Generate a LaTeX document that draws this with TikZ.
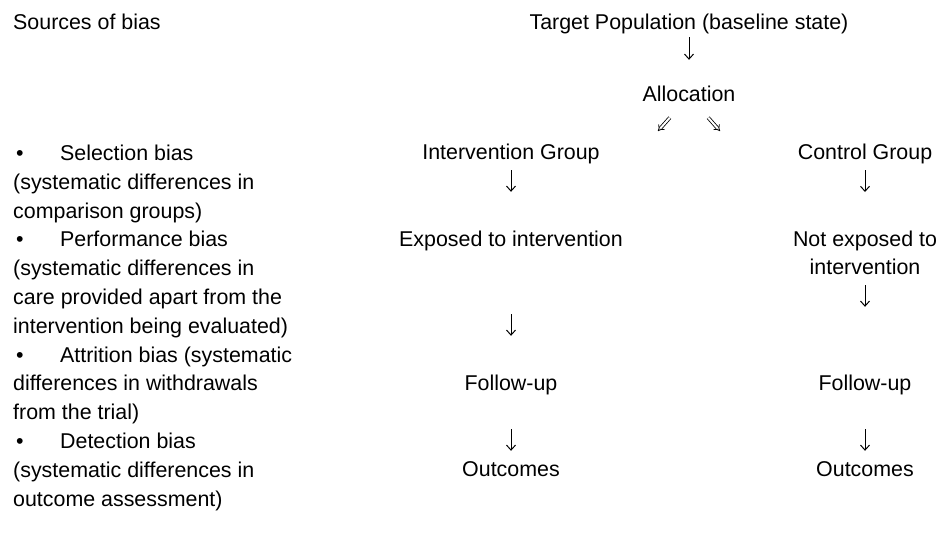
\documentclass[tikz,border=0pt]{standalone}
\usepackage{fontspec}
\setmainfont{Liberation Sans}
\usetikzlibrary{arrows.meta}
\begin{document}
\begin{tikzpicture}[x=1pt, y=-1pt,
  every node/.style={font=\fontsize{21.4}{28.8}\selectfont, inner sep=0pt},
  lbl/.style={anchor=base, text height=15pt, text depth=4pt},
  dn/.style={-{Straight Barb[length=5pt,width=9pt]}, line width=1pt},
  split/.style={double, double distance=2pt, line width=0.8pt, -{Implies}, shorten <=16pt}]
\useasboundingbox (0,0) rectangle (940,536);
\node[anchor=base west] (src) at (13,29.5) {Sources of bias};
\node[anchor=north west, align=left] (bias) at (13,144.8) {\makebox[47pt][l]{\hspace{3pt}\textbullet}Selection bias\\
(systematic differences in\\
comparison groups)\\
\makebox[47pt][l]{\hspace{3pt}\textbullet}Performance bias\\
(systematic differences in\\
care provided apart from the\\
intervention being evaluated)\\
\makebox[47pt][l]{\hspace{3pt}\textbullet}Attrition bias (systematic\\
differences in withdrawals\\
from the trial)\\
\makebox[47pt][l]{\hspace{3pt}\textbullet}Detection bias\\
(systematic differences in\\
outcome assessment)};
\node[lbl] (tgt) at (689,29.5) {Target Population (baseline state)};
\node[lbl] (alloc) at (689,101.5) {Allocation};
\coordinate (spl) at (658,131);
\coordinate (spr) at (720,131);
\node[lbl] (ig) at (511,159.5) {Intervention Group};
\node[lbl] (cg) at (865,159.5) {Control Group};
\node[lbl] (ex) at (511,246.5) {Exposed to intervention};
\node[anchor=north, align=center] (nex) at (865,230.3) {Not exposed to\\intervention};
\node[lbl] (fu1) at (511,390.5) {Follow-up};
\node[lbl] (fu2) at (865,390.5) {Follow-up};
\node[lbl] (oc1) at (511,476.5) {Outcomes};
\node[lbl] (oc2) at (865,476.5) {Outcomes};
\draw[dn, shorten <=3.5pt, shorten >=26.5pt] (tgt) -- (alloc);
\draw[split] (alloc) -- (spl);
\draw[split] (alloc) -- (spr);
\draw[dn, shorten <=6.5pt, shorten >=39.5pt] (ig) -- (ex);
\draw[dn, shorten <=6.5pt, shorten >=38.3pt] (cg) -- (nex);
\draw[dn, shorten <=63.5pt, shorten >=39.5pt] (ex) -- (fu1);
\draw[dn, shorten <=10pt, shorten >=68.5pt] (nex) -- (fu2);
\draw[dn, shorten <=34.5pt, shorten >=10.5pt] (fu1) -- (oc1);
\draw[dn, shorten <=34.5pt, shorten >=10.5pt] (fu2) -- (oc2);
\end{tikzpicture}
\end{document}
